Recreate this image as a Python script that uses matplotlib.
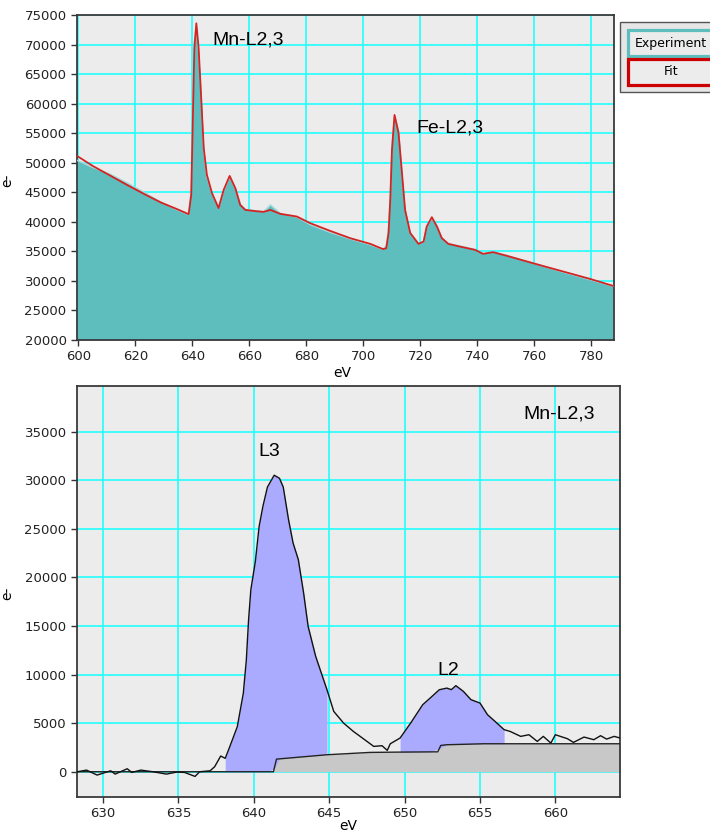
import numpy as np
import matplotlib
matplotlib.use('Agg')
import matplotlib.pyplot as plt
from matplotlib.patches import Rectangle

# Top panel: full spectrum (experiment vs fit)
top_ev = [599.5, 605, 611, 617, 623, 629, 634.7, 638.7, 639.6, 640.2, 640.7, 641.4,
          642.2, 642.8, 643.4, 644, 645.1, 646.9, 649.2, 651, 653.1, 655.1, 656.8,
          658.6, 662, 665, 667.4, 670.9, 676.7, 681.4, 688.4, 695.4, 702.5, 707,
          708.1, 708.9, 709.5, 710.1, 711, 712.4, 713.6, 714.7, 716.5, 719.4, 721.2,
          722.3, 724.1, 725.9, 727.6, 729.9, 734, 739.3, 742.1, 745.6, 750.5, 759.6,
          770, 779.6, 787.7]
top_fit = [51140, 49450, 47850, 46250, 44710, 43250, 42120, 41280, 44540, 58080, 69420, 73600,
           69420, 63720, 58080, 52450, 47930, 44830, 42300, 45390, 47760, 45670, 42850,
           42000, 41800, 41670, 42000, 41330, 40880, 39750, 38450, 37220, 36250, 35360,
           35530, 38110, 43700, 52160, 58080, 55030, 48270, 42000, 38110, 36250, 36640,
           39180, 40770, 39180, 37220, 36250, 35790, 35240, 34560, 34850, 34220, 32980,
           31600, 30330, 29150]
top_exp = [50400, 49200, 48100, 46600, 45000, 43300, 42000, 41200, 46000, 60000, 70500, 73000,
           68500, 64000, 58500, 52000, 47600, 44800, 42300, 45300, 47600, 45700, 43000,
           42100, 41900, 41700, 42850, 41400, 40800, 39500, 38200, 37100, 36100, 35300,
           36000, 39000, 44500, 53000, 58000, 55500, 48500, 42200, 38100, 36300, 36600,
           39200, 40600, 39300, 37300, 36300, 35900, 35300, 34600, 34900, 34300, 33000,
           31500, 30200, 29100]
top_xticks = [600, 620, 640, 660, 680, 700, 720, 740, 760, 780]
top_yticks = [20000, 25000, 30000, 35000, 40000, 45000, 50000, 55000, 60000, 65000, 70000, 75000]

# Bottom panel: background-subtracted Mn-L2,3 edge
bot_ev = [628.3, 628.9, 629.6, 630.5, 630.8, 631.6, 631.9, 632.5, 633.3, 634.2, 634.9,
          635.4, 636.1, 636.4, 637.1, 637.4, 637.8, 638.1, 638.4, 638.9, 639.3, 639.5,
          639.65, 639.8, 640.1, 640.35, 640.6, 640.9, 641.35, 641.7, 641.95, 642.3, 642.6,
          642.95, 643.3, 643.6, 644.1, 644.85, 645.3, 645.95, 646.6, 647.2, 647.95, 648.5,
          648.85, 649.05, 649.7, 650.4, 651.2, 651.7, 652.3, 652.8, 653.1, 653.4, 653.9,
          654.4, 655.0, 655.5, 656.0, 656.6, 657.0, 657.7, 658.25, 658.8, 659.2, 659.7,
          660.0, 660.8, 661.2, 661.9, 662.55, 663.0, 663.4, 663.9, 664.3]
bot_counts = [0, 170, -340, 100, -240, 310, -70, 170, 0, -240, -30,
              -70, -480, 0, 100, 520, 1620, 1380, 2570, 4630, 8070, 11500,
              15650, 18740, 21660, 25260, 27320, 29300, 30520, 30200, 29300, 25950, 23550,
              21830, 18400, 14960, 11880, 8440, 6210, 5010, 4150, 3470, 2610, 2680,
              2200, 2880, 3470, 5010, 6900, 7590, 8440, 8610, 8450, 8860, 8270,
              7420, 7070, 5870, 5180, 4330, 4150, 3640, 3810, 3120, 3640, 2950,
              3810, 3400, 3020, 3570, 3300, 3710, 3360, 3640, 3470]
bg_ev = [628.3, 641.3, 641.5, 644.85, 647.7, 649.5, 652.2, 652.4, 652.8, 655.25, 664.3]
bg_counts = [0, 0, 1300, 1750, 1990, 2020, 2050, 2710, 2780, 2880, 2880]
l3_range = (637.85, 644.85)
l2_range = (649.6, 656.6)
bot_xticks = [630, 635, 640, 645, 650, 655, 660]
bot_yticks = [0, 5000, 10000, 15000, 20000, 25000, 30000, 35000]

fig = plt.figure(figsize=(7.1, 8.33), dpi=100)
ax1 = fig.add_axes([0.1085, 0.592, 0.756, 0.390])
ax2 = fig.add_axes([0.1085, 0.0432, 0.765, 0.4934])


def style(ax):
    ax.set_facecolor('#ececec')
    ax.grid(True, color='#22ffff', linewidth=1.2)
    ax.set_axisbelow(True)
    for s in ax.spines.values():
        s.set_color('#3a3a3a')
        s.set_linewidth(1.3)
    ax.tick_params(direction='out', length=4, width=1, color='#333333',
                   labelsize=9.5, labelcolor='#222222')


# top panel
style(ax1)
ax1.fill_between(top_ev, top_exp, 20000, color='#5ebebe', linewidth=0, zorder=2)
ax1.plot(top_ev, top_exp, color='#a6dada', linewidth=1.0, zorder=3)
ax1.plot(top_ev, top_fit, color='#d42424', linewidth=1.3, zorder=4)
ax1.set_xlim(599.5, 788)
ax1.set_ylim(20000, 75000)
ax1.set_xticks(top_xticks)
ax1.set_yticks(top_yticks)
ax1.set_xlabel('eV', fontsize=10)
ax1.set_ylabel('e-', fontsize=10)
ax1.xaxis.set_label_coords(0.495, -0.08)
ax1.yaxis.set_label_coords(-0.117, 0.49)
ax1.text(647, 70770, 'Mn-L2,3', fontsize=14, family='Liberation Sans', va='center')
ax1.text(718.5, 55880, 'Fe-L2,3', fontsize=14, family='Liberation Sans', va='center')

# bottom panel
style(ax2)
x = np.array(bot_ev)
y = np.array(bot_counts)
base = np.interp(x, bg_ev, bg_counts)
ax2.fill_between(bg_ev, bg_counts, 0, color='#c8c8c8', linewidth=0, zorder=2)
for lo, hi in (l3_range, l2_range):
    m = (x >= lo) & (x <= hi)
    ax2.fill_between(x[m], y[m], base[m], color='#aaaaff', linewidth=0, zorder=2)
ax2.plot(bg_ev, bg_counts, color='#222222', linewidth=1.0, zorder=3)
ax2.plot(bot_ev, bot_counts, color='#111111', linewidth=1.0, zorder=4)
ax2.set_xlim(628.27, 664.3)
ax2.set_ylim(-2600, 39700)
ax2.set_xticks(bot_xticks)
ax2.set_yticks(bot_yticks)
ax2.set_xlabel('eV', fontsize=10)
ax2.set_ylabel('e-', fontsize=10)
ax2.xaxis.set_label_coords(0.499, -0.054)
ax2.yaxis.set_label_coords(-0.116, 0.496)
ax2.text(657.9, 36770, 'Mn-L2,3', fontsize=14, family='Liberation Sans', va='center')
ax2.text(640.3, 32950, 'L3', fontsize=14, family='Liberation Sans', va='center')
ax2.text(652.2, 10430, 'L2', fontsize=14, family='Liberation Sans', va='center')

# legend box drawn by hand (it runs off the right edge)
W, H = 710.0, 833.0


def fbox(x0, y0, x1, y1, **kw):
    r = Rectangle((x0 / W, 1 - y1 / H), (x1 - x0) / W, (y1 - y0) / H,
                  transform=fig.transFigure, clip_on=False, **kw)
    fig.patches.append(r)


fbox(620, 22, 716, 92, facecolor='#e6e6e6', edgecolor='#555555', linewidth=1.0)
fbox(628, 30.5, 716, 56, facecolor='#ececec', edgecolor='#5ebebe', linewidth=2.3)
fbox(628, 59, 716, 84.5, facecolor='#ececec', edgecolor='#cc0000', linewidth=2.3)
fig.text(670.5 / W, 1 - 43 / H, 'Experiment', fontsize=9, ha='center', va='center')
fig.text(671 / W, 1 - 71.5 / H, 'Fit', fontsize=9, ha='center', va='center')

plt.savefig('out.png', dpi=100)
